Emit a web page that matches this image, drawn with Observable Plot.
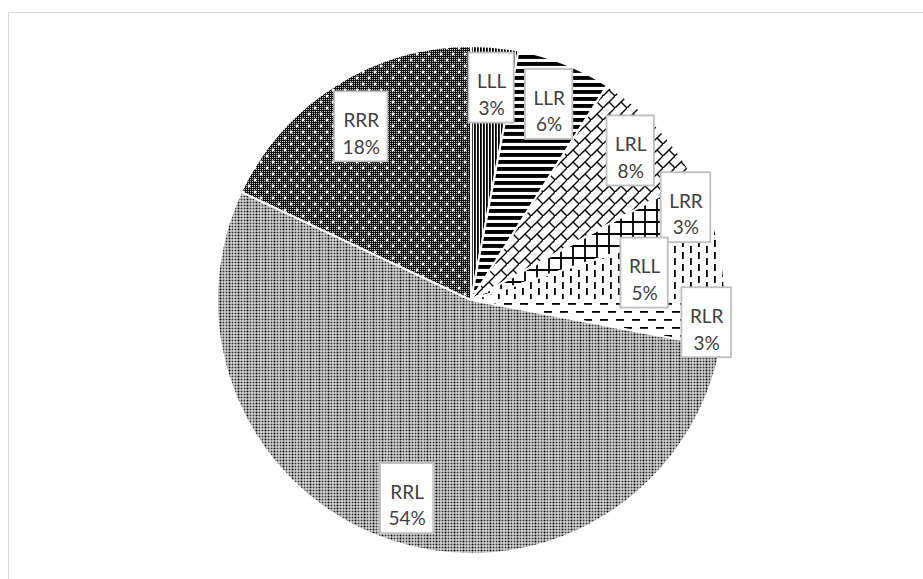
<!DOCTYPE html>
<html><head><meta charset="utf-8">
<script src="https://cdn.jsdelivr.net/npm/d3@7"></script>
<script src="https://cdn.jsdelivr.net/npm/@observablehq/plot@0.6"></script>
<style>
body{margin:0;background:#fff;}
#wrap{position:relative;width:923px;height:579px;overflow:hidden;background:#fff;}
#frame{position:absolute;left:8px;top:12px;width:1000px;height:1000px;border:1px solid #d9d9d9;}
#chart{position:absolute;left:0;top:0;}
</style></head><body>
<div id="wrap"><div id="frame"></div><div id="chart"></div></div>
<script>
// ---- data ----
const categories = ["LLL","LLR","LRL","LRR","RLL","RLR","RRL","RRR"];
const shares = [3, 6, 8, 3, 5, 3, 54, 18];
// ---- layout (label distance from centre, as a fraction of radius) ----
const labelRadius = [0.84, 0.83, 0.86, 0.92, 0.69, 0.93, 0.82, 0.81];

const W = 923, H = 579, CX = 471, CY = 300, R = 254;
const FONT = "19px Lato";

const arcs = d3.pie().sort(null).value(d => d)(shares);
const measure = document.createElement("canvas").getContext("2d");
measure.font = FONT;
const labels = categories.map((c, i) => {
  const a = (arcs[i].startAngle + arcs[i].endAngle) / 2;
  const f = labelRadius[i];
  const pct = shares[i] + "%";
  const tw = Math.max(measure.measureText(c).width, measure.measureText(pct).width);
  return {cat: c, pct, text: c + "\n" + pct, x: f * Math.sin(a), y: f * Math.cos(a), hw: (tw / 2 + 8) / R, hh: 35 / R};
});

function patternDefs(defs) {
  const P = (id, w, h) => defs.append("pattern").attr("id", id).attr("patternUnits", "userSpaceOnUse").attr("width", w).attr("height", h);
  const bg = (p, w, h, c = "#fff") => p.append("rect").attr("width", w).attr("height", h).attr("fill", c);
  const sq = (p, x, y, w, h, c = "#000") => p.append("rect").attr("x", x).attr("y", y).attr("width", w).attr("height", h).attr("fill", c);
  let p;
  // LLL narrow vertical
  p = P("p0", 3, 3); bg(p, 3, 3); sq(p, 0, 0, 1.8, 3);
  // LLR wide horizontal
  p = P("p1", 4, 7); bg(p, 4, 7); sq(p, 0, 0, 4, 3.9);
  // LRL diagonal brick
  p = P("p2", 12, 12); bg(p, 12, 12);
  p.append("path").attr("d", "M-1,13L13,-1M6,6L12,12").attr("stroke", "#000").attr("stroke-width", 1.4).attr("fill", "none");
  // LRR large grid
  p = P("p3", 12, 12); bg(p, 12, 12);
  p.append("path").attr("d", "M0,6H12M6,0V12").attr("stroke", "#000").attr("stroke-width", 1.8);
  // RLL dashed vertical
  p = P("p4", 16, 12); bg(p, 16, 12);
  sq(p, 3, 0, 1.8, 7); sq(p, 11, 6, 1.8, 6); sq(p, 11, 0, 1.8, 1);
  // RLR dashed horizontal
  p = P("p5", 16, 16); bg(p, 16, 16);
  sq(p, 1, 3, 8, 1.8); sq(p, 9, 11, 8, 1.8); sq(p, -7, 11, 8, 1.8);
  // RRL dotted vertical
  p = P("p6", 9, 3); bg(p, 9, 3);
  sq(p, 0.5, 0.5, 2, 2, "#000"); sq(p, 3.5, 0.5, 2, 2, "#333"); sq(p, 6.5, 0.5, 2, 2, "#333");
  // RRR dark mesh with white dots
  p = P("mesh", 2, 2); bg(p, 2, 2, "#111"); sq(p, 1, 1, 1, 1, "#c8c8c8");
  p = P("p7", 12, 12); bg(p, 12, 12, "url(#mesh)");
  for (const [x, y] of [[0,0],[12,0],[0,12],[12,12],[6,6]]) p.append("circle").attr("cx", x).attr("cy", y).attr("r", 1.4).attr("fill", "#fff");
}

function pieMark(index, scales, values, dimensions, context) {
  const g = d3.create("svg:g");
  patternDefs(g.append("defs"));
  const r = scales.x(1) - scales.x(0);
  const arc = d3.arc().innerRadius(0).outerRadius(r);
  g.append("g")
    .attr("transform", `translate(${scales.x(0)},${scales.y(0)})`)
    .selectAll("path").data(arcs).join("path")
    .attr("d", arc)
    .attr("fill", (d, i) => `url(#p${i})`)
    .attr("stroke", "#fff").attr("stroke-width", 2).attr("stroke-linejoin", "round");
  return g.node();
}

const chart = Plot.plot({
  width: W, height: H, margin: 0,
  style: {background: "transparent", overflow: "visible"},
  x: {domain: [-CX / R, (W - CX) / R], axis: null},
  y: {domain: [-(H - CY) / R, CY / R], axis: null},
  marks: [
    pieMark,
    Plot.rect(labels, {x1: d => d.x - d.hw, x2: d => d.x + d.hw, y1: d => d.y - d.hh, y2: d => d.y + d.hh, fill: "#fff", stroke: "#bfbfbf", strokeWidth: 1.8}),
    Plot.text(labels, {x: "x", y: "y", text: "text", lineHeight: 1.4, dy: 5, fill: "#404040", fontSize: 19, fontFamily: "Lato"})
  ]
});
document.getElementById("chart").appendChild(chart);
</script>
</body></html>
